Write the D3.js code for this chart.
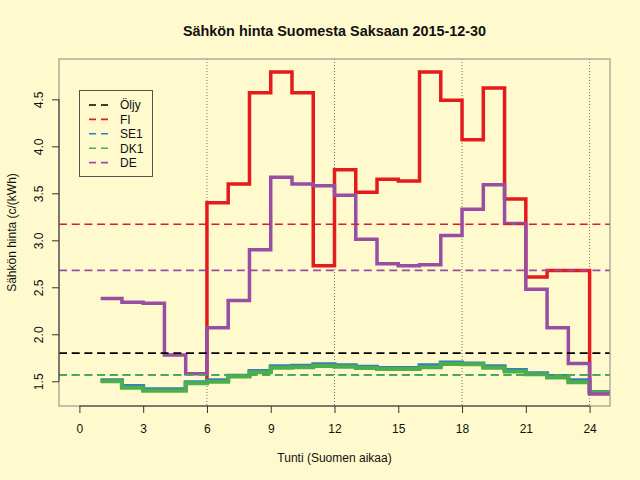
<!DOCTYPE html>
<html>
<head>
<meta charset="utf-8">
<script src="https://cdn.jsdelivr.net/npm/d3@7"></script>
<style>
    html, body { margin: 0; padding: 0; background: #fffacd; }
    #chart { width: 640px; height: 480px; }
    text { font-family: "Liberation Sans", Arial, sans-serif; fill: #111; }
</style>
</head>
<body>
<div id="chart"></div>
<script>
// hourly prices, c/kWh, hour 1..24
var hours = [1, 2, 3, 4, 5, 6, 7, 8, 9, 10, 11, 12, 13, 14, 15, 16, 17, 18, 19, 20, 21, 22, 23, 24];
var fiPrices = [1.505, 1.44, 1.41, 1.41, 1.485, 3.40, 3.60, 4.57, 4.79, 4.57, 2.73, 3.75,
                3.51, 3.65, 3.63, 4.79, 4.49, 4.07, 4.62, 3.44, 2.61, 2.68, 2.68, 1.38];
var se1Prices = [1.51, 1.45, 1.415, 1.415, 1.49, 1.51, 1.56, 1.61, 1.66, 1.665, 1.68, 1.67,
                 1.655, 1.64, 1.64, 1.67, 1.70, 1.69, 1.66, 1.62, 1.585, 1.555, 1.51, 1.385];
var dk1Prices = [1.50, 1.43, 1.40, 1.40, 1.48, 1.495, 1.55, 1.595, 1.645, 1.65, 1.663, 1.655,
                 1.64, 1.63, 1.63, 1.65, 1.684, 1.68, 1.645, 1.605, 1.575, 1.54, 1.49, 1.38];
var dePrices = [2.38, 2.34, 2.33, 1.78, 1.58, 2.07, 2.36, 2.90, 3.67, 3.60, 3.58, 3.48,
                3.01, 2.75, 2.73, 2.74, 3.05, 3.33, 3.59, 3.18, 2.48, 2.07, 1.69, 1.365];

// dashed reference levels (oil price + daily averages)
var legendNames = ['Öljy', 'FI', 'SE1', 'DK1', 'DE'];
var levelValues = [1.80, 3.17, 1.57, 1.565, 2.68];
var seriesColors = ['#000000', '#e41a1c', '#377eb8', '#4daf4a', '#984ea3'];

var xTicks = [0, 3, 6, 9, 12, 15, 18, 21, 24];
var yTicks = [1.5, 2.0, 2.5, 3.0, 3.5, 4.0, 4.5];
var guideHours = [6, 12, 18, 24];

function PriceChart() {

    this.init = function() {
        this._config = {
            width: 640,
            height: 480,
            left: 59,
            right: 610,
            top: 59,
            bottom: 406
        };
        this._rootNode = undefined;
        this._initElements();
        this._initScales();
        this._drawGuides();
        this._drawSeries();
        this._drawLevels();
        this._drawAxes();
        this._drawLegend();
        this._drawTexts();
    };

    this._initElements = function() {
        this._rootNode = d3.select('#chart')
            .append('svg')
            .attr('width', this._config.width)
            .attr('height', this._config.height);

        this._rootNode.append('rect')
            .attr('width', this._config.width)
            .attr('height', this._config.height)
            .attr('fill', '#fffacd');

        this._rootNode.append('clipPath')
            .attr('id', 'plotclip')
            .append('rect')
            .attr('x', this._config.left)
            .attr('y', this._config.top)
            .attr('width', this._config.right - this._config.left)
            .attr('height', this._config.bottom - this._config.top);
    };

    this._initScales = function() {
        var c = this._config;
        // R style 4% padding round 0..24 and round the data range
        this._x = d3.scaleLinear().domain([-0.96, 24.96]).range([c.left, c.right]);
        this._y = d3.scaleLinear().domain([1.237, 4.929]).range([c.bottom, c.top]);
    };

    this._drawGuides = function() {
        var x = this._x, c = this._config;
        this._rootNode.append('g').selectAll('line')
            .data(guideHours)
            .enter().append('line')
            .attr('x1', function(d) { return x(d); })
            .attr('x2', function(d) { return x(d); })
            .attr('y1', c.top)
            .attr('y2', c.bottom)
            .attr('stroke', '#777')
            .attr('stroke-width', 1)
            .attr('stroke-dasharray', '1,2');
    };

    this._drawSeries = function() {
        var x = this._x, y = this._y;
        var line = d3.line()
            .x(function(d) { return x(d.h); })
            .y(function(d) { return y(d.v); })
            .curve(d3.curveStepAfter);

        var toPoints = function(values) {
            var pts = hours.map(function(h, i) { return { h: h, v: values[i] }; });
            pts.push({ h: hours[hours.length - 1] + 1, v: values[values.length - 1] });
            return pts;
        };

        var series = [
            { values: fiPrices, color: seriesColors[1], width: 3.5 },
            { values: se1Prices, color: seriesColors[2], width: 4 },
            { values: dk1Prices, color: seriesColors[3], width: 4 },
            { values: dePrices, color: seriesColors[4], width: 3.5 }
        ];

        this._rootNode.append('g')
            .attr('clip-path', 'url(#plotclip)')
            .selectAll('path')
            .data(series)
            .enter().append('path')
            .attr('d', function(s) { return line(toPoints(s.values)); })
            .attr('fill', 'none')
            .attr('stroke', function(s) { return s.color; })
            .attr('stroke-width', function(s) { return s.width; })
            .attr('stroke-linejoin', 'miter');
    };

    this._drawLevels = function() {
        var y = this._y, c = this._config;
        var order = [2, 3, 0, 1, 4];
        this._rootNode.append('g').selectAll('line')
            .data(order)
            .enter().append('line')
            .attr('x1', c.left)
            .attr('x2', c.right)
            .attr('y1', function(i) { return y(levelValues[i]); })
            .attr('y2', function(i) { return y(levelValues[i]); })
            .attr('stroke', function(i) { return seriesColors[i]; })
            .attr('stroke-width', 1.6)
            .attr('stroke-dasharray', '8,4.7');
    };

    this._drawAxes = function() {
        var c = this._config;
        this._rootNode.append('rect')
            .attr('x', c.left)
            .attr('y', c.top)
            .attr('width', c.right - c.left)
            .attr('height', c.bottom - c.top)
            .attr('fill', 'none')
            .attr('stroke', '#9a9a90')
            .attr('stroke-width', 1.2);

        var xAxis = this._rootNode.append('g')
            .attr('transform', 'translate(0,' + c.bottom + ')')
            .call(d3.axisBottom(this._x).tickValues(xTicks).tickSize(7).tickPadding(11)
                .tickFormat(d3.format('d')));
        xAxis.select('.domain').attr('d', 'M' + this._x(0) + ',0H' + this._x(24))
            .attr('stroke', '#333');

        var yAxis = this._rootNode.append('g')
            .attr('transform', 'translate(' + c.left + ',0)')
            .call(d3.axisLeft(this._y).tickValues(yTicks).tickSize(7)
                .tickFormat(d3.format('.1f')));
        yAxis.select('.domain').attr('d', 'M0,' + this._y(1.5) + 'V' + this._y(4.5))
            .attr('stroke', '#333');
        yAxis.selectAll('.tick text')
            .attr('x', 0)
            .attr('dy', 0)
            .attr('text-anchor', 'middle')
            .attr('transform', 'translate(-20,0) rotate(-90)')
            .attr('dominant-baseline', 'central');

        this._rootNode.selectAll('.tick line').attr('stroke', '#333');
        this._rootNode.selectAll('.tick text')
            .attr('font-size', 12)
            .attr('font-family', '"Liberation Sans", Arial, sans-serif')
            .attr('fill', '#111');
    };

    this._drawLegend = function() {
        var g = this._rootNode.append('g');
        g.append('rect')
            .attr('x', 79.5)
            .attr('y', 90.5)
            .attr('width', 73)
            .attr('height', 86)
            .attr('fill', 'none')
            .attr('stroke', '#55554e')
            .attr('stroke-width', 1);

        var rows = g.selectAll('g.row')
            .data(legendNames)
            .enter().append('g')
            .attr('class', 'row')
            .attr('transform', function(d, i) { return 'translate(0,' + (105 + i * 14.4) + ')'; });

        rows.append('line')
            .attr('x1', 89)
            .attr('x2', 108)
            .attr('stroke', function(d, i) { return seriesColors[i]; })
            .attr('stroke-width', 1.6)
            .attr('stroke-dasharray', '7,5');

        rows.append('text')
            .attr('x', 120)
            .attr('dy', '0.36em')
            .attr('font-size', 12)
            .text(function(d) { return d; });
    };

    this._drawTexts = function() {
        var c = this._config;
        var midX = (c.left + c.right) / 2;
        this._rootNode.append('text')
            .attr('x', midX)
            .attr('y', 36)
            .attr('text-anchor', 'middle')
            .attr('font-size', 14.4)
            .attr('font-weight', 'bold')
            .text('Sähkön hinta Suomesta Saksaan 2015-12-30');

        this._rootNode.append('text')
            .attr('x', midX)
            .attr('y', 462)
            .attr('text-anchor', 'middle')
            .attr('font-size', 12)
            .text('Tunti (Suomen aikaa)');

        this._rootNode.append('text')
            .attr('transform', 'translate(16,' + ((c.top + c.bottom) / 2) + ') rotate(-90)')
            .attr('text-anchor', 'middle')
            .attr('font-size', 12)
            .text('Sähkön hinta (c/(kWh)');
    };

    this.init();
}

function initApp() {
    if (typeof(window.priceChart) === 'undefined') {
        window.priceChart = new PriceChart();
    }
}
document.addEventListener('DOMContentLoaded', initApp);
</script>
</body>
</html>
